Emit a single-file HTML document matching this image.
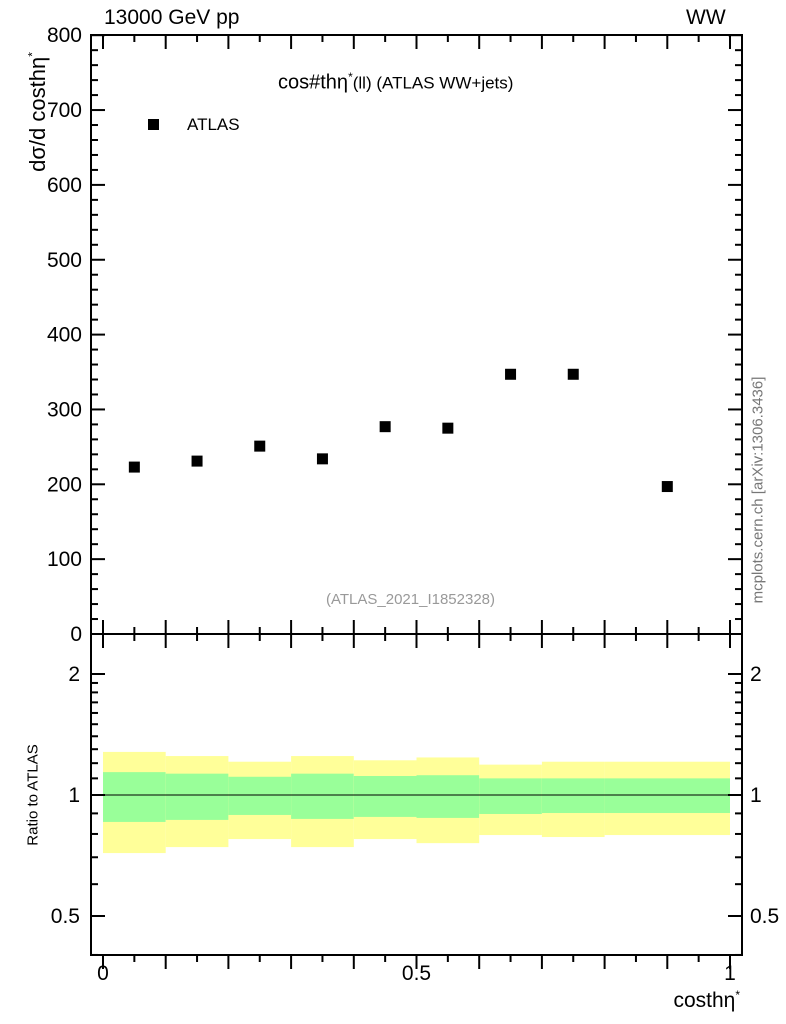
<!DOCTYPE html>
<html><head><meta charset="utf-8"><style>
body{margin:0;background:#fff;}
svg{display:block;font-family:"Liberation Sans",sans-serif;}
</style></head><body>
<svg id="c" width="786" height="1024"></svg>
<script>
const xCenters=[0.05,0.15,0.25,0.35,0.45,0.55,0.65,0.75,0.9];
const values=[223,231,251,234,277,275,347,347,197];
const binEdges=[0,0.1,0.2,0.3,0.4,0.5,0.6,0.7,0.8,1.0];
const yellowUp=[1.28,1.25,1.21,1.25,1.22,1.24,1.19,1.21,1.21];
const yellowDn=[0.717,0.742,0.777,0.742,0.777,0.759,0.795,0.786,0.795];
const greenUp=[1.14,1.13,1.11,1.13,1.115,1.12,1.10,1.10,1.10];
const greenDn=[0.857,0.867,0.892,0.872,0.882,0.877,0.897,0.902,0.902];
const yTicks=[0,100,200,300,400,500,600,700,800];
const rTicks=[0.5,1,2];
const xTicks=[0,0.5,1];

const svg=document.getElementById('c');const NS='http://www.w3.org/2000/svg';
function el(t,a,p){const e=document.createElementNS(NS,t);for(const k in a)e.setAttribute(k,a[k]);(p||svg).appendChild(e);return e;}
const L=91,R=742,T=35,M=634,B=955;
const X=v=>103+v*627;
const Y=v=>634-v*0.7485;
const RY=r=>795-Math.log2(r)*121;

for(let i=0;i<xCenters.length;i++){
 const x0=X(binEdges[i]),x1=X(binEdges[i+1]);
 let e=el('rect',{x:x0,y:RY(yellowUp[i]),width:x1-x0,height:RY(yellowDn[i])-RY(yellowUp[i]),fill:'#ffff99'});
 
 
 e=el('rect',{x:x0,y:RY(greenUp[i]),width:x1-x0,height:RY(greenDn[i])-RY(greenUp[i]),fill:'#99ff99'});
 
 
}
let ln=el('line',{x1:L,x2:R,y1:RY(1),y2:RY(1),stroke:'#000','stroke-width':1});



let f=el('rect',{x:L,y:T,width:R-L,height:M-T,fill:'none',stroke:'#000','stroke-width':2});


f=el('rect',{x:L,y:M,width:R-L,height:B-M,fill:'none',stroke:'#000','stroke-width':2});



for(let k=0;k<=20;k++){const v=k*0.05,x=X(v),len=k%2==0?14:7;
 [[M,1],[B,-1],[M,-1]].forEach(([y,d])=>el('line',{x1:x,x2:x,y1:y,y2:y-d*len,stroke:'#000','stroke-width':2}));
 el('line',{x1:x,x2:x,y1:T,y2:T+len,stroke:'#000','stroke-width':2});}
xTicks.forEach(v=>{const t=el('text',{x:X(v),y:980,'font-size':21,'text-anchor':'middle'});t.textContent=v;
 
 });
for(let v=0;v<=800;v+=20){const y=Y(v),len=v%100==0?14:7;
 el('line',{x1:L,x2:L+len,y1:y,y2:y,stroke:'#000','stroke-width':2});
 el('line',{x1:R,x2:R-len,y1:y,y2:y,stroke:'#000','stroke-width':2});}
yTicks.forEach(v=>{const t=el('text',{x:82,y:Y(v)+7,'font-size':21,'text-anchor':'end'});t.textContent=v;
 
 });
const rMinor=[0.4,0.5,0.6,0.7,0.8,0.9,1,1.1,1.2,1.3,1.4,1.5,1.6,1.7,1.8,1.9,2];
rMinor.forEach(r=>{const y=RY(r),len=rTicks.includes(r)?14:7;
 el('line',{x1:L,x2:L+len,y1:y,y2:y,stroke:'#000','stroke-width':2});
 el('line',{x1:R,x2:R-len,y1:y,y2:y,stroke:'#000','stroke-width':2});});
rTicks.forEach(r=>{let t=el('text',{x:80,y:RY(r)+7,'font-size':21,'text-anchor':'end'});t.textContent=r;
 
 
 t=el('text',{x:750,y:RY(r)+7,'font-size':21});t.textContent=r;
 
 });

xCenters.forEach((c,i)=>{const p=el('rect',{x:X(c)-5.5,y:Y(values[i])-5.5,width:11,height:11,fill:'#000'});
 
 });
</script>
<div style="position:absolute;left:0;top:0;width:786px;height:1024px;font-family:'Liberation Sans',sans-serif;pointer-events:none">
<div style="position:absolute;left:104px;top:6px;font-size:21px">13000 GeV pp</div>
<div style="position:absolute;left:686px;top:6px;font-size:21px">WW</div>
<div style="position:absolute;left:278px;top:70px;font-size:20px">cos#thη<sup style="font-size:12px">*</sup><span style="font-size:17px">(ll) (ATLAS WW+jets)</span></div>
<div style="position:absolute;left:148px;top:119px;width:11px;height:11px;background:#000"></div>
<div style="position:absolute;left:187px;top:115px;font-size:17px">ATLAS</div>
<div style="position:absolute;left:326px;top:591px;font-size:15px;color:#999">(ATLAS_2021_I1852328)</div>
<div style="position:absolute;left:38px;top:112px;font-size:22px;transform:translate(-50%,-50%) rotate(-90deg);white-space:nowrap">dσ/d costhη<sup style="font-size:12px">*</sup></div>
<div style="position:absolute;left:33px;top:795px;font-size:15px;transform:translate(-50%,-50%) rotate(-90deg);white-space:nowrap">Ratio to ATLAS</div>
<div style="position:absolute;right:46px;top:988px;font-size:21px">costhη<sup style="font-size:12px">*</sup></div>
<div style="position:absolute;left:758px;top:490px;font-size:15px;color:#777;transform:translate(-50%,-50%) rotate(-90deg);white-space:nowrap">mcplots.cern.ch [arXiv:1306.3436]</div>
</div>
</body></html>
